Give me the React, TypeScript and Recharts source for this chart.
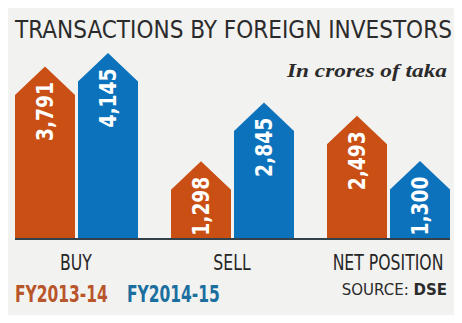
import React from 'react';
import { BarChart, Bar, XAxis, YAxis, Legend, LabelList } from 'recharts';

const categories = ['BUY', 'SELL', 'NET POSITION'];
const fy2013 = [3791, 1298, 2493];
const fy2014 = [4145, 2845, 1300];
const seriesNames = ['FY2013-14', 'FY2014-15'];

const data = categories.map((name, i) => ({ name, fy2013: fy2013[i], fy2014: fy2014[i] }));

const ORANGE = '#c94f14';
const BLUE = '#0b72bb';
const LEGEND_COLORS: Record<string, string> = { 'FY2013-14': '#b9552a', 'FY2014-15': '#1b6f9f' };
const NARROW = '"Liberation Sans Narrow", "DejaVu Sans Condensed", "Roboto", sans-serif';

// bar with a pointed roof, like a little house
const HouseBar = (props: any) => {
  const { x, y, width, height, fill } = props;
  if (width == null || height == null) return null;
  const roof = width * 0.475;
  const d = `M${x},${y + height} L${x},${y} L${x + width / 2},${y - roof} L${x + width},${y} L${x + width},${y + height} Z`;
  return <path d={d} fill={fill} />;
};

const ValueLabel = (props: any) => {
  const { x, y, width, value } = props;
  const cx = x + width / 2;
  const cy = y - 13;
  return (
    <text
      x={cx}
      y={cy}
      transform={`rotate(-90 ${cx} ${cy})`}
      textAnchor="end"
      dominantBaseline="central"
      fill="#fff"
      fontFamily={NARROW}
      fontWeight="bold"
      fontSize={23}
      textLength={59}
      lengthAdjust="spacingAndGlyphs"
    >
      {Number(value).toLocaleString('en-US')}
    </text>
  );
};

const CategoryTick = (props: any) => {
  const { x, y, payload } = props;
  return (
    <g transform={`translate(${x},${y}) scale(0.83,1)`}>
      <text x={0} y={0} dy={23} textAnchor="middle" fill="#262626" fontFamily={NARROW} fontSize={21}>
        {payload.value}
      </text>
    </g>
  );
};

const LegendContent = (props: any) => {
  const items = props.payload || [];
  return (
    <svg width={260} height={30} style={{ overflow: 'visible' }}>
      {items.map((item: any, i: number) => (
        <g key={item.value} transform={`translate(${i * 112},21) scale(0.78,1)`}>
          <text
            x={0}
            y={0}
            fill={LEGEND_COLORS[item.value] || item.color}
            fontFamily={NARROW}
            fontWeight="bold"
            fontSize={23}
            textLength={119}
            lengthAdjust="spacingAndGlyphs"
          >
            {item.value}
          </text>
        </g>
      ))}
    </svg>
  );
};

export default function App() {
  return (
    <div
      style={{
        position: 'relative',
        width: 462,
        height: 323,
        margin: -8,
        overflow: 'hidden',
        background: '#f2f2f0',
      }}
    >
      <svg width={462} height={85} style={{ position: 'absolute', left: 0, top: 0 }}>
        <g transform="translate(15,38) scale(0.956,1)">
          <text
            x={0}
            y={0}
            fill="#2b2b2b"
            fontFamily={NARROW}
            fontSize={25}
            textLength={457}
            lengthAdjust="spacingAndGlyphs"
          >
            TRANSACTIONS BY FOREIGN INVESTORS
          </text>
        </g>
        <text
          x={447}
          y={77}
          textAnchor="end"
          fill="#2b2b2b"
          fontFamily='"Liberation Serif", "DejaVu Serif", serif'
          fontStyle="italic"
          fontWeight="bold"
          fontSize={18}
          textLength={160}
          lengthAdjust="spacingAndGlyphs"
        >
          In crores of taka
        </text>
      </svg>

      <div style={{ position: 'absolute', left: -2, top: 0 }}>
        <BarChart
          width={468}
          height={323}
          data={data}
          margin={{ top: 49, right: 0, bottom: 54, left: 0 }}
          barSize={60}
          barGap={3}
        >
          <XAxis dataKey="name" axisLine={false} tickLine={false} tick={<CategoryTick />} interval={0} height={30} />
          <YAxis hide domain={[0, 5000]} />
          <Legend
            layout="horizontal"
            verticalAlign="middle"
            align="center"
            content={<LegendContent />}
            wrapperStyle={{ position: 'absolute', left: 17, top: 281, width: 'auto', bottom: 'auto' }}
          />
          <Bar dataKey="fy2013" name={seriesNames[0]} fill={ORANGE} shape={<HouseBar />} isAnimationActive={false}>
            <LabelList dataKey="fy2013" content={<ValueLabel />} />
          </Bar>
          <Bar dataKey="fy2014" name={seriesNames[1]} fill={BLUE} shape={<HouseBar />} isAnimationActive={false}>
            <LabelList dataKey="fy2014" content={<ValueLabel />} />
          </Bar>
        </BarChart>
      </div>

      <div style={{ position: 'absolute', left: 15, top: 238, width: 435, height: 2, background: '#33414a' }} />

      <div
        style={{
          position: 'absolute',
          right: 15,
          top: 281,
          fontFamily: '"DejaVu Sans", sans-serif',
          fontSize: 15,
          color: '#2b2b2b',
        }}
      >
        SOURCE: <b>DSE</b>
      </div>
    </div>
  );
}
